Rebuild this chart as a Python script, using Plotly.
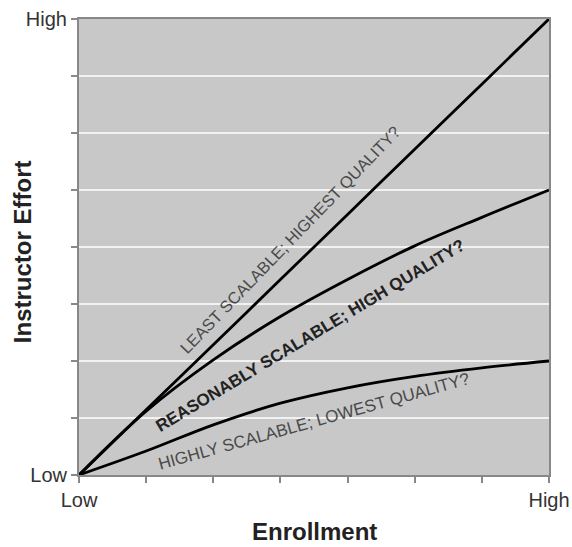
import plotly.graph_objects as go

# Data (arbitrary units: x 0..7 ticks, y 0..8 gridlines)
enrollment = [0, 1, 2, 3, 4, 5, 6, 7]
least_scalable = [0, 8/7, 16/7, 24/7, 32/7, 40/7, 48/7, 8]
reasonably_scalable = [0, 1.12, 2.02, 2.78, 3.43, 4.02, 4.52, 5.0]
highly_scalable = [0, 0.42, 0.88, 1.26, 1.53, 1.73, 1.88, 2.0]

x_tickvals = [0, 1, 2, 3, 4, 5, 6, 7]
x_ticktext = ["Low", "", "", "", "", "", "", "High"]
y_tickvals = [0, 1, 2, 3, 4, 5, 6, 7, 8]
y_ticktext = ["Low", "", "", "", "", "", "", "", "High"]

labels = [
    ("LEAST SCALABLE; HIGHEST QUALITY?", 3.14, 4.12, -46, False, 16.5),
    ("REASONABLY SCALABLE; HIGH QUALITY?", 3.45, 2.44, -31, True, 17),
    ("HIGHLY SCALABLE; LOWEST QUALITY?", 3.5, 0.93, -15.5, False, 17),
]

FONT = "Liberation Sans, Arial, sans-serif"

fig = go.Figure()
for ys in (least_scalable, reasonably_scalable, highly_scalable):
    fig.add_trace(go.Scatter(
        x=enrollment, y=ys, mode="lines",
        line=dict(color="black", width=2.8, shape="spline", smoothing=1.0),
        showlegend=False, hoverinfo="skip",
    ))

for text, x, y, ang, bold, size in labels:
    fig.add_annotation(
        x=x, y=y, xref="x", yref="y", text=f"<b>{text}</b>" if bold else text,
        showarrow=False, textangle=ang,
        font=dict(family=FONT, size=size,
                  color="#222222" if bold else "#4a4a4a"),
    )

# axis titles placed as annotations (paper coords relative to plot area)
fig.add_annotation(
    x=0.502, y=-0.123, xref="paper", yref="paper", text="<b>Enrollment</b>",
    showarrow=False, xanchor="center", yanchor="middle",
    font=dict(family=FONT, size=24, color="#222222"),
)
fig.add_annotation(
    x=-0.121, y=0.489, xref="paper", yref="paper", text="<b>Instructor Effort</b>",
    showarrow=False, xanchor="center", yanchor="middle", textangle=-90,
    font=dict(family=FONT, size=24, color="#222222"),
)

fig.update_layout(
    width=572, height=547,
    margin=dict(l=79, r=23, t=19, b=72),
    paper_bgcolor="white", plot_bgcolor="#c8c8c8",
    font=dict(family=FONT, color="#222222"),
    showlegend=False,
)
fig.update_xaxes(
    range=[0, 7], tickvals=x_tickvals, ticktext=x_ticktext,
    showgrid=False, zeroline=False, automargin=False,
    showline=True, mirror=True, linecolor="#888888", linewidth=2,
    ticks="outside", ticklen=6, tickcolor="#888888", tickwidth=1.5,
    tickfont=dict(size=20, color="#333333"), ticklabelstandoff=0,
    ticklabeloverflow="allow",
)
fig.update_yaxes(
    range=[0, 8], tickvals=y_tickvals, ticktext=y_ticktext,
    showgrid=True, gridcolor="#f2f2f2", gridwidth=2, zeroline=False,
    automargin=False,
    showline=True, mirror=True, linecolor="#888888", linewidth=2,
    ticks="outside", ticklen=6, tickcolor="#888888", tickwidth=1.5,
    tickfont=dict(size=20, color="#333333"), ticklabeloverflow="allow",
)

# remove the default page margin so the 572x547 figure fills the window exactly
fig.write_html(
    "out.html",
    config={"displayModeBar": False},
    post_script=(
        "document.body.style.margin='0';"
        "document.body.style.overflow='hidden';"
        "document.documentElement.style.overflow='hidden';"
    ),
)
